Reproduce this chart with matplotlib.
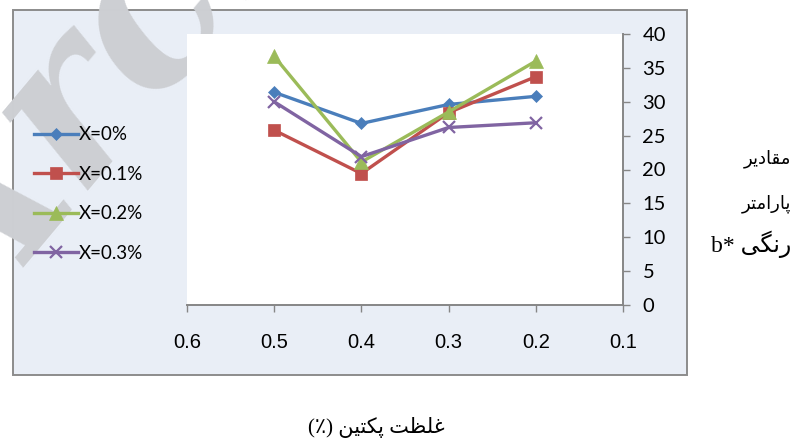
"""Colour parameter b* versus pectin concentration (reference recreation)."""

import matplotlib

matplotlib.use("Agg")
import matplotlib.pyplot as plt  # noqa: E402
from matplotlib.patches import Rectangle  # noqa: E402

# data
pectin = [0.5, 0.4, 0.3, 0.2]
b_x0 = [31.4, 26.8, 29.6, 30.8]
b_x01 = [25.8, 19.4, 28.4, 33.7]
b_x02 = [36.7, 21.1, 28.5, 36.0]
b_x03 = [30.0, 21.9, 26.2, 26.9]
series_labels = ["X=0%", "X=0.1%", "X=0.2%", "X=0.3%"]
x_ticks = [0.6, 0.5, 0.4, 0.3, 0.2, 0.1]
y_ticks = [0, 5, 10, 15, 20, 25, 30, 35, 40]

# Persian labels, written in visual order with presentation forms
# (matplotlib has no Arabic shaping of its own)
ylab_1 = "\uFEAE\uFEF3\uFEA9\uFE8E\uFED8\uFEE3"               # مقادیر
ylab_2 = "\uFEAE\uFE98\uFEE3\uFE8D\uFEAD\uFE8E\uFB58"         # پارامتر
ylab_3 = "b* \uFEF0\uFB95\uFEE7\uFEAD"                        # رنگی *b
xlab = ("(\u066A) " + "\uFEE6\uFEF4\uFE98\uFB91\uFB58" + " "
        + "\uFE96\uFEC8\uFEE0\uFECF")                          # غلظت پکتین (٪)

W, H = 795, 443
colors = ["#4A7EBB", "#C0504D", "#9BBB59", "#8064A2"]
markers = ["D", "s", "^", "x"]
msizes = [6.5, 8.5, 10, 8]


def px(x0, y0, x1, y1):
    """pixel box (top-left origin) -> figure fraction rect"""
    return [x0 / W, 1 - y1 / H, (x1 - x0) / W, (y1 - y0) / H]


fig = plt.figure(figsize=(W / 100, H / 100), dpi=100)
fig.patch.set_facecolor("white")

box = px(13, 10, 687, 375)
fig.patches.append(Rectangle((box[0], box[1]), box[2], box[3],
                             transform=fig.transFigure, facecolor="#E9EEF6",
                             edgecolor="#8C8C8C", linewidth=1.4, zorder=-1))

ax = fig.add_axes(px(187, 34, 623, 305))
ax.set_facecolor("white")

all_series = [b_x0, b_x01, b_x02, b_x03]
for vals, lab, c, m, ms in zip(all_series, series_labels, colors, markers, msizes):
    ax.plot(pectin, vals, color=c, lw=2.4, marker=m, markersize=ms,
            markeredgewidth=1.6 if m == "x" else 0.5, markeredgecolor=c,
            label=lab, clip_on=False)

ax.set_xlim(0.6, 0.1)
ax.set_ylim(0, 40)
ax.set_xticks(x_ticks)
ax.set_xticklabels([f"{v:.1f}" for v in x_ticks], fontfamily="Liberation Sans",
                   fontsize=14.5)
ax.set_yticks(y_ticks)
ax.set_yticklabels([str(v) for v in y_ticks], fontfamily="Lato", fontsize=14.5)
ax.yaxis.tick_right()
ax.tick_params(axis="x", direction="out", length=5, width=1, color="#868686",
               pad=15)
ax.tick_params(axis="y", direction="out", length=5, width=1, color="#868686",
               pad=9)
for side in ["top", "left"]:
    ax.spines[side].set_visible(False)
for side in ["bottom", "right"]:
    ax.spines[side].set_color("#868686")
    ax.spines[side].set_linewidth(1.4)

leg = fig.legend(loc="center left", bbox_to_anchor=(17 / W, 1 - 194 / H),
                 frameon=False, prop={"family": "Lato", "size": 13.5},
                 handlelength=2.35, handletextpad=0.05, labelspacing=1.2)

fig.text(791 / W, 1 - 159 / H, ylab_1, ha="right", va="center",
         fontfamily="DejaVu Sans", fontsize=13)
fig.text(791 / W, 1 - 204 / H, ylab_2, ha="right", va="center",
         fontfamily="DejaVu Sans", fontsize=13)
fig.text(791 / W, 1 - 244 / H, ylab_3, ha="right", va="center",
         fontfamily=["Liberation Serif", "DejaVu Sans"], fontsize=17)
fig.text(376 / W, 1 - 427 / H, xlab, ha="center", va="center",
         fontfamily=["Liberation Serif", "DejaVu Sans"], fontsize=15)

# faint diagonal watermark of the source page, behind the plot area
fig.text(-154 / W, 1 - 328 / H, "Archive", rotation=50, ha="left",
         va="baseline", fontfamily="DejaVu Serif", style="italic",
         weight="bold", fontsize=160, color="#CDCFD3", zorder=-0.5)

fig.savefig("out.png", dpi=100)
plt.close(fig)
